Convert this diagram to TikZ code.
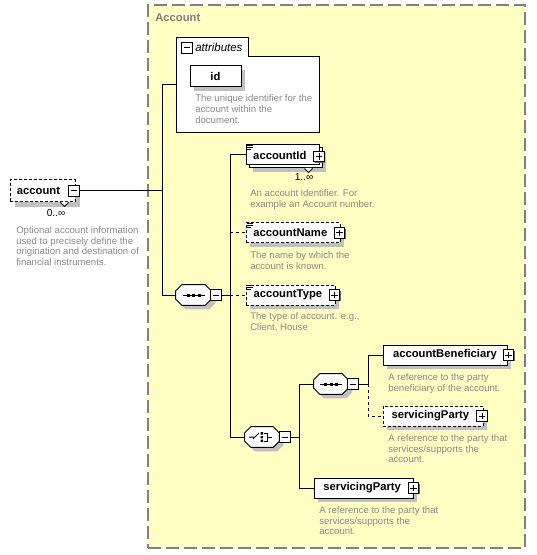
\documentclass[tikz,border=0pt]{standalone}
\usepackage{fontspec}
\setmainfont{Liberation Sans}
\usetikzlibrary{calc,shadows}
\definecolor{cyell}{HTML}{FFFFC4}
\definecolor{cgray}{HTML}{808080}
\definecolor{cdesc}{HTML}{8A8A8A}
\definecolor{cshad}{HTML}{C0C0C0}
\tikzset{
  lbl/.style={font=\fontsize{8.45}{10}\selectfont\bfseries},
  wd/.style={minimum width=#1*0.75pt},
  ht/.style={minimum height=#1*0.75pt},
  shad/.style={drop shadow={shadow xshift=3pt, shadow yshift=-3pt, fill=cshad, opacity=1}},
  elem/.style={draw, fill=white, line width=0.75pt, inner sep=0pt, minimum height=15pt, lbl},
  optbox/.style={dash pattern=on 2.25pt off 1.5pt},
  optline/.style={dash pattern=on 2.25pt off 2.25pt},
  conn/.style={line width=0.75pt},
  pmbox/.style={draw, fill=white, line width=0.75pt, minimum size=8pt, inner sep=0pt,
    drop shadow={shadow xshift=0.75pt, shadow yshift=-0.75pt, fill=black!60, opacity=1}},
  minusbox/.style={pmbox, path picture={\draw[line width=0.75pt]
      ($(path picture bounding box.west)+(1.6pt,0)$) -- ($(path picture bounding box.east)+(-1.6pt,0)$);}},
  plusbox/.style={pmbox, path picture={\draw[line width=0.75pt]
      ($(path picture bounding box.west)+(1.6pt,0)$) -- ($(path picture bounding box.east)+(-1.6pt,0)$)
      ($(path picture bounding box.north)+(0,-1.6pt)$) -- ($(path picture bounding box.south)+(0,1.6pt)$);}},
  desc/.style={anchor=north west, inner sep=0pt, align=left, text=cdesc, font=\fontsize{7.2}{8.1}\selectfont},
  occ/.style={inner sep=0pt, font=\fontsize{7.6}{9}\selectfont},
  hidden/.style={draw=none, inner sep=0pt},
}
\newcommand{\mkoct}[1]{%
  \fill[cshad] ($(#1.north west)+(10,4)$) -- ($(#1.north east)+(-2,4)$) -- ($(#1.north east)+(4,10)$) -- ($(#1.south east)+(4,-2)$) -- ($(#1.south east)+(-2,4)$) -- ($(#1.south west)+(10,4)$) -- ($(#1.south west)+(4,-2)$) -- ($(#1.north west)+(4,10)$) -- cycle;
  \draw[line width=0.75pt, fill=white] ($(#1.north west)+(6,0)$) -- ($(#1.north east)+(-6,0)$) -- ($(#1.north east)+(0,6)$) -- ($(#1.south east)+(0,-6)$) -- ($(#1.south east)+(-6,0)$) -- ($(#1.south west)+(6,0)$) -- ($(#1.south west)+(0,-6)$) -- ($(#1.north west)+(0,6)$) -- cycle;}
\newcommand{\seqsym}[1]{%
  \draw[line width=0.75pt] ($(#1)+(-11,0)$) -- ($(#1)+(11,0)$);
  \fill ($(#1)+(-7,-1.5)$) rectangle +(3,3);
  \fill ($(#1)+(-1.5,-1.5)$) rectangle +(3,3);
  \fill ($(#1)+(4,-1.5)$) rectangle +(3,3);}
\newcommand{\docsym}[1]{%
  \draw[line width=0.6pt] ($(#1.north west)+(1.5,1)$) -- +(6,0) ($(#1.north west)+(1.5,3)$) -- +(6,0) ($(#1.north west)+(1.5,5)$) -- +(4,0);}
\newcommand{\multsym}[2]{%
  \fill[white] ($(#1.south west)+(#2-4,-0.5)$) -- ($(#1.south west)+(#2+4,-0.5)$) -- ($(#1.south west)+(#2,4)$) -- cycle;
  \draw[line width=0.6pt] ($(#1.south west)+(#2-4,0)$) -- ($(#1.south west)+(#2,4)$) -- ($(#1.south west)+(#2+4,0)$);}
\begin{document}
\begin{tikzpicture}[x=0.75pt,y=-0.75pt]
\useasboundingbox[fill=white] (0,0) rectangle (536,555);
% container
\node[draw=cgray, fill=cyell, line width=1pt, dash pattern=on 9.75pt off 3.75pt, wd=377, ht=543, inner sep=0pt] (cont) at (336.5,276.5) {};
\node[anchor=west, inner sep=0pt, text=cgray, lbl] (conttitle) at (155,18) {Account};
% attributes
\node[hidden, wd=142, ht=94] (attrs) at (248,85) {};
\draw[line width=0.75pt, fill=white] (attrs.south west) -- (attrs.north west) -- ($(attrs.north west)+(72,0)$) -- ($(attrs.north west)+(72,19)$) -- ($(attrs.north east)+(0,19)$) -- (attrs.south east) -- cycle;
\node[minusbox] (attrm) at (187,48) {};
\node[anchor=west, inner sep=0pt, font=\fontsize{8.6}{10}\selectfont\itshape] (attrlbl) at (195,47.5) {attributes};
\node[elem, shad, wd=51, ht=21] (id) at (215.5,76.5) {id};
\node[desc] (iddesc) at (195,94.5) {The unique identifier for the\\account within the\\document.};
% account
\node[elem, optbox, wd=65, ht=22, drop shadow={shadow xshift=3.75pt, shadow yshift=-3.75pt, fill=cshad, opacity=1}] (acc) at (42.5,191) {\hspace*{-6pt}account};
\multsym{acc}{55}
\node[minusbox] (accm) at (74,191) {};
\node[occ] (accocc) at (56,213) {0..\char"221E};
\node[desc] (accdesc) at (16,226) {Optional account information\\used to precisely define the\\origination and destination of\\financial instruments.};
% sequence 1
\node[hidden, wd=35, ht=20] (s1) at (193.5,295) {};
\mkoct{s1}
\seqsym{s1}
\node[minusbox] (s1m) at (216,295) {};
% accountId
\node[elem, shad, wd=73, ht=20] (aidb) at (285.5,158) {};
\node[elem, wd=73, ht=20] (aid) at (282.5,155) {\hspace*{-4pt}accountId};
\docsym{aid}
\multsym{aidb}{22+38}
\node[plusbox] (aidp) at (319,156.5) {};
\node[occ] (aidocc) at (304,177) {1..\char"221E};
\node[desc] (aiddesc) at (250,189.5) {An account identifier. For\\example an Account number.};
% accountName
\node[elem, optbox, shad, wd=94, ht=20] (aname) at (293,233) {\hspace*{-4pt}accountName};
\docsym{aname}
\node[plusbox] (anamep) at (339.5,233) {};
\node[desc] (anamedesc) at (250,251.5) {The name by which the\\account is known.};
% accountType
\node[elem, optbox, shad, wd=89, ht=20] (atype) at (290.5,295) {\hspace*{-4pt}accountType};
\docsym{atype}
\node[plusbox] (atypep) at (334.5,295) {};
\node[desc] (atypedesc) at (250,312.5) {The type of account. e.g.,\\Client, House};
% choice
\node[hidden, wd=34, ht=20] (c1) at (262,437) {};
\mkoct{c1}
\draw[line width=0.75pt] ($(c1)+(-13,0)$) -- ($(c1)+(-8,0)$) ($(c1)+(-9,2)$) -- ($(c1)+(-3,-4)$);
\fill ($(c1)+(-1.5,-5)$) rectangle +(2.5,2.5) ($(c1)+(-1.5,-1.25)$) rectangle +(2.5,2.5) ($(c1)+(-1.5,2.5)$) rectangle +(2.5,2.5);
\draw[line width=0.75pt] ($(c1)+(1.5,-4)$) -- ($(c1)+(5,-4)$) -- ($(c1)+(5,4)$) -- ($(c1)+(1.5,4)$) ($(c1)+(5,0)$) -- ($(c1)+(10,0)$);
\node[minusbox] (c1m) at (285,437) {};
% sequence 2
\node[hidden, wd=34, ht=20] (s2) at (331,384) {};
\mkoct{s2}
\seqsym{s2}
\node[minusbox] (s2m) at (353,384) {};
% accountBeneficiary
\node[elem, shad, wd=124, ht=20] (aben) at (445,355) {accountBeneficiary};
\node[plusbox] (abenp) at (508.5,355) {};
\node[desc] (abendesc) at (388,373) {A reference to the party\\beneficiary of the account.};
% servicingParty (optional)
\node[elem, optbox, shad, wd=100, ht=20] (spo) at (433,416) {\hspace*{-4pt}servicingParty};
\node[plusbox] (spop) at (482,416) {};
\node[desc] (spodesc) at (388,434) {A reference to the party that\\services/supports the\\account.};
% servicingParty (required)
\node[elem, shad, wd=99, ht=20] (spr) at (363.5,488) {\hspace*{-2pt}servicingParty};
\node[plusbox] (sprp) at (413.5,488) {};
\node[desc] (sprdesc) at (319,506) {A reference to the party that\\services/supports the\\account.};
% junction x-positions
\coordinate (t1) at (162,0);
\coordinate (t2) at (230,0);
\coordinate (t3) at (299,0);
\coordinate (t4) at (368,0);
% connectors
\draw[conn] (accm.east) -- (accm.east -| t1);
\draw[conn] (attrs.west -| t1) -- (s1.west -| t1);
\draw[conn] (attrs.west -| t1) -- (attrs.west);
\draw[conn] (s1.west -| t1) -- (s1.west);
\draw[conn] (s1m.east) -- (s1m.east -| t2);
\draw[conn] (aid.west -| t2) -- (c1.west -| t2);
\draw[conn] (aid.west -| t2) -- (aid.west);
\draw[conn, optline] (aname.west -| t2) -- (aname.west);
\draw[conn, optline] (atype.west -| t2) -- (atype.west);
\draw[conn] (c1.west -| t2) -- (c1.west);
\draw[conn] (c1m.east) -- (c1m.east -| t3);
\draw[conn] (s2.west -| t3) -- (spr.west -| t3);
\draw[conn] (s2.west -| t3) -- (s2.west);
\draw[conn] (spr.west -| t3) -- (spr.west);
\draw[conn] (s2m.east) -- (s2m.east -| t4);
\draw[conn] (aben.west -| t4) -- (s2m.east -| t4);
\draw[conn] (aben.west -| t4) -- (aben.west);
\draw[conn, optline] (s2m.east -| t4) -- (spo.west -| t4) -- (spo.west);
\end{tikzpicture}
\end{document}
